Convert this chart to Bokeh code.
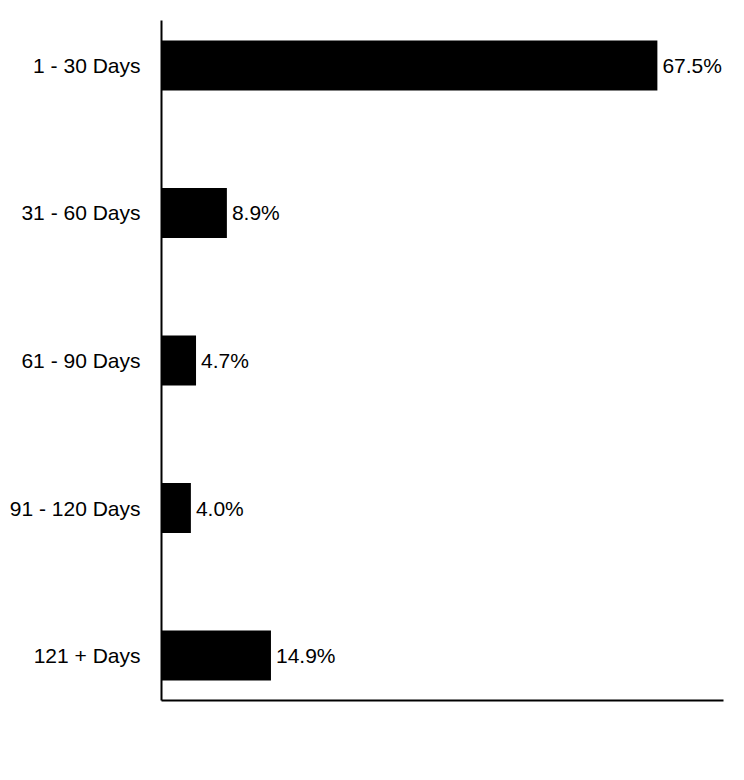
from bokeh.plotting import figure
from bokeh.models import ColumnDataSource, Range1d, FixedTicker, LabelSet
from bokeh.core.properties import value
from bokeh.embed import file_html
from bokeh.resources import INLINE

categories = ["1 - 30 Days", "31 - 60 Days", "61 - 90 Days", "91 - 120 Days", "121 + Days"]
values = [67.5, 8.9, 4.7, 4.0, 14.9]
labels = ["67.5%", "8.9%", "4.7%", "4.0%", "14.9%"]

pos = list(range(len(categories), 0, -1))  # top to bottom
src = ColumnDataSource(dict(y=pos, v=values, lab=labels, cat=categories))

p = figure(width=736, height=760, output_backend="svg", toolbar_location=None,
           x_range=Range1d(0, 76.5), y_range=Range1d(0.695, 5.305),
           min_border_left=161, min_border_right=13, min_border_top=20, min_border_bottom=60)
p.outline_line_color = None
p.xgrid.visible = False
p.ygrid.visible = False

p.hbar(y="y", right="v", left=0, height=0.339, source=src, fill_color="black", line_color=None)

p.add_layout(LabelSet(x="v", y="y", text="lab", source=src, x_offset=5,
                      text_baseline="middle", text_align="left",
                      text_font=value("Liberation Sans"), text_font_size="21px", text_color="black"))

p.yaxis.ticker = FixedTicker(ticks=pos)
p.yaxis.major_label_overrides = {k: c for k, c in zip(pos, categories)}
p.yaxis.major_tick_out = 0
p.yaxis.major_tick_in = 0
p.yaxis.minor_tick_out = 0
p.yaxis.minor_tick_in = 0
p.yaxis.major_label_standoff = 21
p.yaxis.major_label_text_font = "Liberation Sans"
p.yaxis.major_label_text_font_size = "21px"
p.yaxis.major_label_text_color = "black"
p.yaxis.axis_line_width = 2
p.yaxis.axis_line_color = "black"

p.xaxis.ticker = FixedTicker(ticks=[])
p.xaxis.major_tick_out = 0
p.xaxis.major_tick_in = 0
p.xaxis.minor_tick_out = 0
p.xaxis.minor_tick_in = 0
p.xaxis.axis_line_width = 2
p.xaxis.axis_line_color = "black"

open("out.html", "w").write(file_html(p, INLINE))
